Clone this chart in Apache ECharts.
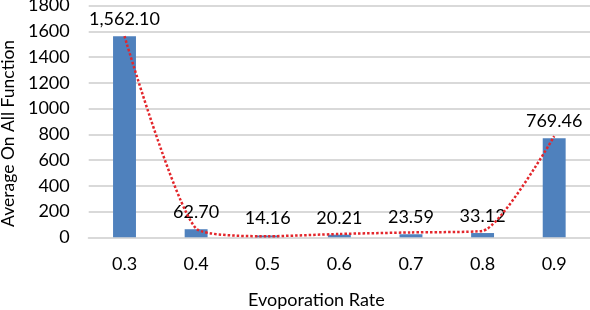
<!DOCTYPE html>
<html>
<head>
<meta charset="utf-8">
<script src="https://cdn.jsdelivr.net/npm/echarts@6/dist/echarts.min.js"></script>
<style>
html,body{margin:0;padding:0;background:#fff;}
#chart{width:590px;height:310px;}
</style>
</head>
<body>
<div id="chart"></div>
<script>
var categories = ['0.3', '0.4', '0.5', '0.6', '0.7', '0.8', '0.9'];
var barValues = [1562.10, 62.70, 14.16, 20.21, 23.59, 33.12, 769.46];
var trendValues = [1562, 68, 8, 26, 38, 50, 785];
var yTicks = [0, 200, 400, 600, 800, 1000, 1200, 1400, 1600, 1800];

var FONT = 'Lato';
var FS = 18;
var chart = echarts.init(document.getElementById('chart'), null, {renderer: 'canvas'});
chart.setOption({
  animation: false,
  backgroundColor: '#ffffff',
  textStyle: {fontFamily: FONT},
  grid: {left: 88.7, right: 0, top: 5.5, bottom: 72.7, containLabel: false, outerBoundsMode: 'none'},
  xAxis: {
    type: 'category',
    data: categories,
    name: 'Evoporation Rate',
    nameLocation: 'middle',
    nameGap: 54,
    nameTextStyle: {fontFamily: FONT, fontSize: FS, color: '#000', padding: [0, 46, 0, 0]},
    axisLine: {show: true, lineStyle: {color: '#D9D9D9', width: 2}},
    axisTick: {show: false},
    axisLabel: {fontFamily: FONT, fontSize: FS, color: '#000', margin: 18},
    splitLine: {show: false}
  },
  yAxis: {
    type: 'value',
    min: yTicks[0],
    max: yTicks[yTicks.length - 1],
    interval: 200,
    name: 'Average On All Function',
    nameLocation: 'middle',
    nameGap: 69,
    nameTextStyle: {fontFamily: FONT, fontSize: 17.5, color: '#000', padding: [0, 24, 0, 0]},
    axisLine: {show: false},
    axisTick: {show: false},
    axisLabel: {fontFamily: FONT, fontSize: FS, color: '#000', margin: 19, formatter: function (v) { return String(v); }},
    splitLine: {show: true, lineStyle: {color: '#D9D9D9', width: 2}}
  },
  series: [
    {
      type: 'bar',
      data: barValues,
      barWidth: '32%',
      itemStyle: {color: '#4F81BD'},
      label: {
        show: true,
        position: 'top',
        distance: 8,
        fontFamily: FONT,
        fontSize: FS,
        color: '#000',
        formatter: function (p) {
          return p.value.toLocaleString('en-US', {minimumFractionDigits: 2, maximumFractionDigits: 2});
        }
      },
      z: 2
    },
    {
      type: 'line',
      data: trendValues,
      smooth: 0.2,
      symbol: 'none',
      lineStyle: {color: '#E3262B', width: 2.5, type: [2.5, 2]},
      z: 3
    }
  ]
});
</script>
</body>
</html>
